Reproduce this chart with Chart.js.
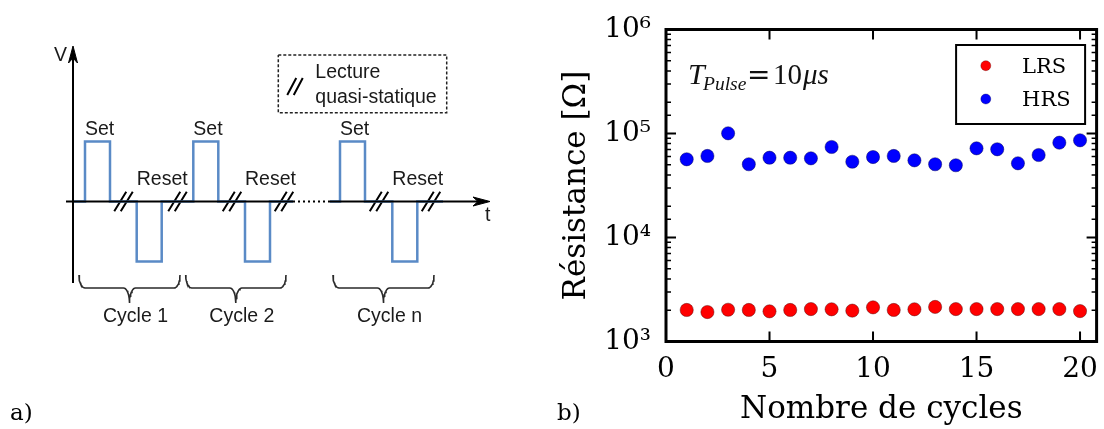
<!DOCTYPE html>
<html><head><meta charset="utf-8">
<script src="https://cdn.jsdelivr.net/npm/chart.js@4/dist/chart.umd.min.js"></script>
<style>
html,body{margin:0;padding:0;background:#fff;width:1104px;height:429px;overflow:hidden}
#pa{position:absolute;left:0;top:0}
#pb{position:absolute;left:540px;top:0}
</style></head><body>
<canvas id="pa" width="540" height="429"></canvas>
<canvas id="pb" width="564" height="429"></canvas>
<script>
// ===== Panel b) data =====
const cycles = [1,2,3,4,5,6,7,8,9,10,11,12,13,14,15,16,17,18,19,20];
const lrsOhm = [2010,1920,2020,2010,1950,2010,2050,2040,1980,2130,2010,2040,2150,2050,2050,2050,2050,2050,2050,1960];
const hrsOhm = [56500,60800,100400,50600,58500,58500,57700,74200,53500,59400,60800,55200,50600,49500,72000,70500,51700,62100,81600,86000];
const seriesNames = ['LRS','HRS'];
const xTickStep = 5;
const yLabelExp = {3:'10\u00B3',4:'10\u2074',5:'10\u2075',6:'10\u2076'};

// ===== Panel a) schematic data (time units, voltage units) =====
const setStart = [85, 193.3, 340];
const resetStart = [136.7, 245, 392.3];
const pulseWidth = 25;
const setLevel = 1, resetLevel = -1;
const signalFrom = [73, 330];
const signalTo = [293, 443];
const breakAt = [123.5, 177.5, 232, 284, 379, 431];
const cycleStart = [79, 185.7, 333];
const cycleEnd = [180, 286, 434];
const cycleLabels = ['Cycle 1','Cycle 2','Cycle n'];

// ---------- schematic geometry helpers ----------
const PXV = 60;                       // pixels per voltage unit
const px = p => p / PXV;              // pixel length -> voltage units
const BASE_Y = 201.5;                 // pixel row of V = 0
const yMaxA = BASE_Y / PXV, yMinA = -(429 - BASE_Y) / PXV;
const BLUE = '#5a8ac6';

function signalPoints(t0, t1) {
  const pulses = setStart.map(s => [s, setLevel]).concat(resetStart.map(s => [s, resetLevel]))
    .filter(p => p[0] >= t0 && p[0] <= t1).sort((a, b) => a[0] - b[0]);
  const pts = [{x: t0, y: 0}];
  pulses.forEach(([s, v]) => {
    pts.push({x: s, y: 0}, {x: s, y: v}, {x: s + pulseWidth, y: v}, {x: s + pulseWidth, y: 0});
  });
  pts.push({x: t1, y: 0});
  return pts;
}
function slashPair(c, v, gap, dx, dy) {
  const out = [];
  [-gap / 2, gap / 2].forEach(o => {
    out.push({x: c + o - dx, y: v - px(dy)}, {x: c + o + dx, y: v + px(dy)}, {x: c, y: null});
  });
  return out;
}
function bracePoints(s, e, top, mid, tip) {
  const r = 6, rc = 6, c = (s + e) / 2, pts = [], N = 10;
  for (let i = 0; i <= N; i++) { const t = i / N * Math.PI / 2; pts.push({x: s + r * (1 - Math.cos(t)), y: top + (mid - top) * Math.sin(t)}); }
  for (let i = 0; i <= N; i++) { const t = i / N * Math.PI / 2; pts.push({x: c - rc + rc * Math.sin(t), y: mid + (tip - mid) * (1 - Math.cos(t))}); }
  for (let i = N; i >= 0; i--) { const t = i / N * Math.PI / 2; pts.push({x: c + rc - rc * Math.sin(t), y: mid + (tip - mid) * (1 - Math.cos(t))}); }
  for (let i = N; i >= 0; i--) { const t = i / N * Math.PI / 2; pts.push({x: e - r * (1 - Math.cos(t)), y: top + (mid - top) * Math.sin(t)}); }
  return pts;
}
const braceTop = px(BASE_Y - 275), braceMid = px(BASE_Y - 288), braceTip = px(BASE_Y - 303);
const vAxisX = 73, vAxisBottom = px(BASE_Y - 283), vAxisTop = px(BASE_Y - 46);
const tAxisFrom = 66, tAxisTo = 490;
const legendBoxA = {x0: 278.3, x1: 446.7, v0: px(BASE_Y - 55), v1: px(BASE_Y - 112.7)};

const lineDs = (data, color, width, extra) => Object.assign({
  data, showLine: true, borderColor: color, borderWidth: width, pointRadius: 0,
  fill: false, tension: 0, spanGaps: false
}, extra || {});

let braceData = [];
cycleStart.forEach((s, i) => { braceData = braceData.concat(bracePoints(s, cycleEnd[i], braceTop, braceMid, braceTip), [{x: s, y: null}]); });
let breakData = [];
breakAt.forEach(c => { breakData = breakData.concat(slashPair(c, 0, 6.5, 6, 9.7)); });
const legendSlash = slashPair(295, px(BASE_Y - 86.5), 6.5, 4.5, 8.5);

const textA = {
  id: 'textA',
  afterDatasetsDraw(chart) {
    const {ctx, scales: {x, y}} = chart;
    const X = v => x.getPixelForValue(v), Y = v => y.getPixelForValue(v);
    ctx.save();
    ctx.fillStyle = '#1a1a1a';
    ctx.font = '19.5px "Liberation Sans", Arial, sans-serif';
    ctx.textBaseline = 'alphabetic';
    ctx.textAlign = 'left';
    setStart.forEach(s => ctx.fillText('Set', X(s), Y(setLevel) - 6.5));
    resetStart.forEach(s => ctx.fillText('Reset', X(s), Y(0) - 16.5));
    ctx.fillText('Lecture', X(legendBoxA.x0) + 37, Y(legendBoxA.v0) + 23.3);
    ctx.fillText('quasi-statique', X(legendBoxA.x0) + 37, Y(legendBoxA.v0) + 48.3);
    ctx.fillText('t', X(tAxisTo) - 5, Y(0) + 19.2);
    ctx.textAlign = 'right';
    ctx.fillText('V', X(vAxisX) - 6, Y(vAxisTop) + 15);
    ctx.textAlign = 'center';
    cycleLabels.forEach((lab, i) => ctx.fillText(lab, X((cycleStart[i] + cycleEnd[i]) / 2) + 6, Y(braceTip) + 18.7));
    ctx.textAlign = 'left';
    ctx.font = '23px "DejaVu Serif", serif';
    ctx.fillStyle = '#000';
    ctx.fillText('a)', 10, 420);
    ctx.restore();
  }
};

new Chart(document.getElementById('pa'), {
  type: 'scatter',
  data: {datasets: [
    // axes
    lineDs([{x: tAxisFrom, y: 0}, {x: signalTo[0], y: 0}, {x: signalTo[0], y: null}, {x: signalFrom[1], y: 0}, {x: tAxisTo - 10, y: 0}], '#000', 2),
    lineDs([{x: signalTo[0], y: 0}, {x: signalFrom[1], y: 0}], '#000', 2, {borderDash: [2, 3]}),
    lineDs([{x: vAxisX, y: vAxisBottom}, {x: vAxisX, y: vAxisTop - px(10)}], '#000', 2),
    lineDs([{x: tAxisTo, y: 0}, {x: tAxisTo - 17, y: px(4.5)}, {x: tAxisTo - 12, y: 0}, {x: tAxisTo - 17, y: px(-4.5)}, {x: tAxisTo, y: 0}], '#000', 1, {fill: 'shape', backgroundColor: '#000'}),
    lineDs([{x: vAxisX, y: vAxisTop}, {x: vAxisX - 4.5, y: vAxisTop - px(17)}, {x: vAxisX, y: vAxisTop - px(12)}, {x: vAxisX + 4.5, y: vAxisTop - px(17)}, {x: vAxisX, y: vAxisTop}], '#000', 1, {fill: 'shape', backgroundColor: '#000'}),
    // signal
    lineDs(signalPoints(signalFrom[0], signalTo[0]), BLUE, 2.5),
    lineDs(signalPoints(signalFrom[1], signalTo[1]), BLUE, 2.5),
    // break marks
    lineDs(breakData, '#000', 2),
    // braces
    lineDs(braceData, '#2a2a2a', 1.6),
    // dashed legend box
    lineDs([{x: legendBoxA.x0, y: legendBoxA.v0}, {x: legendBoxA.x1, y: legendBoxA.v0}, {x: legendBoxA.x1, y: legendBoxA.v1}, {x: legendBoxA.x0, y: legendBoxA.v1}, {x: legendBoxA.x0, y: legendBoxA.v0}], '#222', 1.5, {borderDash: [3, 2]}),
    lineDs(legendSlash, '#000', 2)
  ]},
  options: {
    responsive: false, animation: false, events: [],
    layout: {padding: 0},
    plugins: {legend: {display: false}, tooltip: {enabled: false}},
    scales: {
      x: {type: 'linear', display: false, min: 0, max: 540},
      y: {type: 'linear', display: false, min: yMinA, max: yMaxA}
    }
  },
  plugins: [textA]
});

// ================= Panel b) chart =================
const isDecade = v => Math.abs(Math.log10(v) - Math.round(Math.log10(v))) < 1e-9;
const frameB = {
  id: 'frameB',
  afterDraw(chart) {
    const {ctx, chartArea: a, scales: {x, y}} = chart;
    ctx.save();
    ctx.strokeStyle = '#000';
    y.ticks.forEach(t => {
      const p = y.getPixelForValue(t.value);
      if (p < a.top + 1 || p > a.bottom - 1) return;
      const major = isDecade(t.value), len = major ? 10 : 5;
      ctx.lineWidth = major ? 2 : 1.5;
      ctx.beginPath();
      ctx.moveTo(a.left, p); ctx.lineTo(a.left + len, p);
      ctx.moveTo(a.right, p); ctx.lineTo(a.right - len, p);
      ctx.stroke();
    });
    ctx.lineWidth = 2;
    x.ticks.forEach(t => {
      const p = x.getPixelForValue(t.value);
      if (p < a.left + 1 || p > a.right - 1) return;
      ctx.beginPath();
      ctx.moveTo(p, a.bottom); ctx.lineTo(p, a.bottom - 10);
      ctx.moveTo(p, a.top); ctx.lineTo(p, a.top + 10);
      ctx.stroke();
    });
    ctx.lineWidth = 3;
    ctx.strokeRect(a.left, a.top, a.right - a.left, a.bottom - a.top);

    // legend
    const bx1 = a.right - 11.5, bx0 = bx1 - 129, by0 = a.top + 15.5, by1 = by0 + 79;
    ctx.fillStyle = '#fff';
    ctx.fillRect(bx0, by0, bx1 - bx0, by1 - by0);
    ctx.lineWidth = 2;
    ctx.strokeRect(bx0, by0, bx1 - bx0, by1 - by0);
    ctx.font = '21px "DejaVu Serif", serif';
    ctx.textBaseline = 'middle';
    ctx.textAlign = 'left';
    chart.data.datasets.forEach((ds, i) => {
      const cy = by0 + 20.7 + i * 33.3;
      ctx.beginPath();
      ctx.arc(bx0 + 29.7, cy, 5, 0, Math.PI * 2);
      ctx.fillStyle = ds.backgroundColor; ctx.fill();
      ctx.lineWidth = 0.6; ctx.strokeStyle = ds.borderColor; ctx.stroke();
      ctx.fillStyle = '#000';
      ctx.fillText(ds.label, bx0 + 66, cy + 1.5);
    });

    // annotation T_Pulse = 10 µs
    ctx.textBaseline = 'alphabetic';
    ctx.fillStyle = '#111';
    const tx = a.left + 22, ty = a.top + 54;
    ctx.font = 'italic 30px "Liberation Serif", serif';
    ctx.fillText('T', tx, ty);
    ctx.font = 'italic 19.5px "Liberation Serif", serif';
    ctx.fillText('Pulse', tx + 15, ty + 6.5);
    ctx.font = '28px "DejaVu Serif", serif';
    ctx.fillText('=', tx + 59, ty);
    ctx.font = '29px "Liberation Serif", serif';
    ctx.fillText('10', tx + 85, ty);
    const w10 = ctx.measureText('10').width;
    ctx.font = 'italic 29px "Liberation Serif", serif';
    ctx.fillText('\u03BCs', tx + 85 + w10 + 1, ty);

    // panel label
    ctx.font = '23px "DejaVu Serif", serif';
    ctx.fillStyle = '#000';
    ctx.fillText('b)', 17, 420);
    ctx.restore();
  }
};

new Chart(document.getElementById('pb'), {
  type: 'scatter',
  data: {datasets: [
    {label: seriesNames[0], data: cycles.map((c, i) => ({x: c, y: lrsOhm[i]})),
     backgroundColor: '#ff0000', borderColor: 'rgba(70,0,0,0.55)', borderWidth: 0.8, pointRadius: 6.6, pointHoverRadius: 6.6},
    {label: seriesNames[1], data: cycles.map((c, i) => ({x: c, y: hrsOhm[i]})),
     backgroundColor: '#0000ff', borderColor: 'rgba(0,0,70,0.55)', borderWidth: 0.8, pointRadius: 6.6, pointHoverRadius: 6.6}
  ]},
  options: {
    responsive: false, animation: false, events: [],
    layout: {padding: {top: 29.5, right: 6.5, left: 0, bottom: 0}},
    plugins: {legend: {display: false}, tooltip: {enabled: false}},
    scales: {
      x: {
        type: 'linear', min: 0, max: 20.8,
        grid: {display: false, drawTicks: false},
        border: {display: false},
        ticks: {stepSize: xTickStep, includeBounds: false, maxRotation: 0, autoSkip: false, padding: 11,
          color: '#000', font: {family: 'DejaVu Serif', size: 28}},
        title: {display: true, text: 'Nombre de cycles', color: '#000', font: {family: 'DejaVu Serif', size: 31}, padding: {top: 0, bottom: 0}},
        afterFit: s => { s.height = 87.5; s.paddingLeft = 0; s.paddingRight = 0; }
      },
      y: {
        type: 'logarithmic', min: 1000, max: 1000000,
        grid: {display: false, drawTicks: false},
        border: {display: false},
        ticks: {autoSkip: false, padding: 15, color: '#000', font: {family: 'DejaVu Serif', size: 28},
          callback: v => isDecade(v) ? yLabelExp[Math.round(Math.log10(v))] : ''},
        title: {display: true, text: 'Résistance [\u03A9]', color: '#000', font: {family: 'DejaVu Serif', size: 31}, padding: {top: 18, bottom: 0}},
        afterFit: s => { s.width = 126; s.paddingTop = 0; s.paddingBottom = 0; }
      }
    }
  },
  plugins: [frameB]
});
</script>
</body></html>
